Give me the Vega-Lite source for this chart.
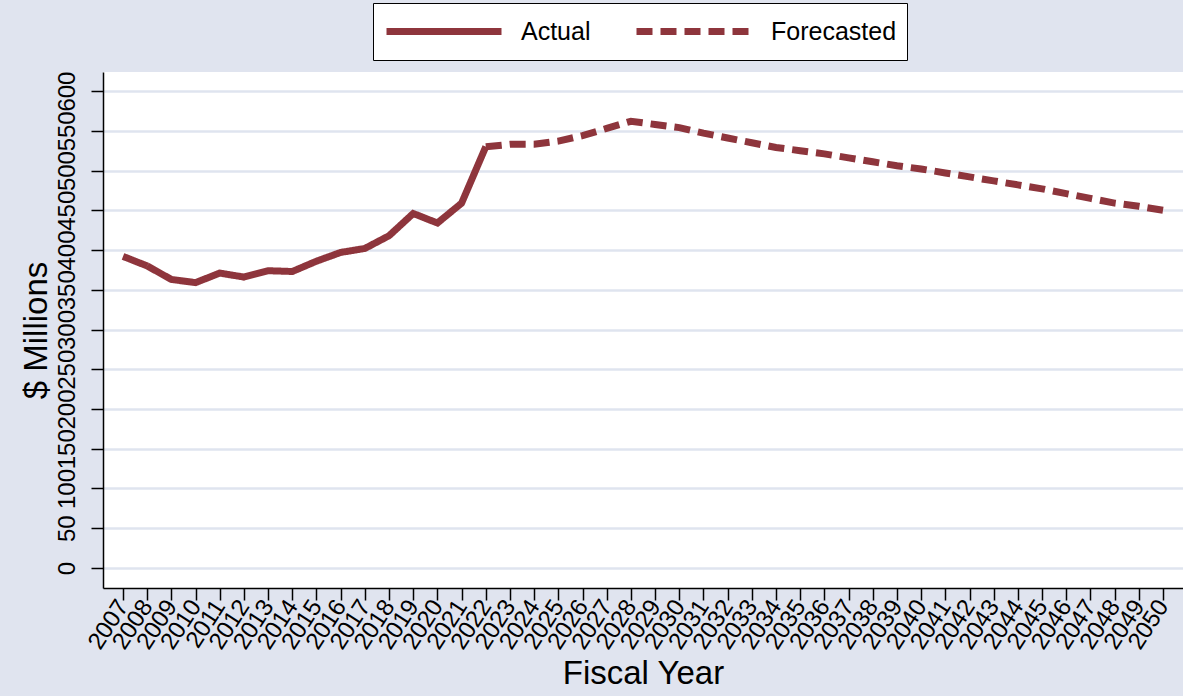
{
  "$schema": "https://vega.github.io/schema/vega-lite/v6.json",
  "width": 1080,
  "height": 516,
  "autosize": "none",
  "padding": {"left": 103, "top": 72, "right": 0, "bottom": 108},
  "background": "#e0e4ef",
  "config": {
    "view": {"fill": "white", "stroke": null},
    "font": "Liberation Sans"
  },
  "data": {
    "values": [
      {"year": 2007, "value": 392, "type": "Actual"},
      {"year": 2008, "value": 380, "type": "Actual"},
      {"year": 2009, "value": 363, "type": "Actual"},
      {"year": 2010, "value": 359, "type": "Actual"},
      {"year": 2011, "value": 371, "type": "Actual"},
      {"year": 2012, "value": 366, "type": "Actual"},
      {"year": 2013, "value": 374, "type": "Actual"},
      {"year": 2014, "value": 373, "type": "Actual"},
      {"year": 2015, "value": 386, "type": "Actual"},
      {"year": 2016, "value": 397, "type": "Actual"},
      {"year": 2017, "value": 402, "type": "Actual"},
      {"year": 2018, "value": 418, "type": "Actual"},
      {"year": 2019, "value": 446, "type": "Actual"},
      {"year": 2020, "value": 434, "type": "Actual"},
      {"year": 2021, "value": 459, "type": "Actual"},
      {"year": 2022, "value": 530, "type": "Actual"},
      {"year": 2022, "value": 530, "type": "Forecasted"},
      {"year": 2023, "value": 533, "type": "Forecasted"},
      {"year": 2024, "value": 533, "type": "Forecasted"},
      {"year": 2025, "value": 537, "type": "Forecasted"},
      {"year": 2026, "value": 544, "type": "Forecasted"},
      {"year": 2027, "value": 553, "type": "Forecasted"},
      {"year": 2028, "value": 562, "type": "Forecasted"},
      {"year": 2029, "value": 558, "type": "Forecasted"},
      {"year": 2030, "value": 554, "type": "Forecasted"},
      {"year": 2031, "value": 547, "type": "Forecasted"},
      {"year": 2032, "value": 541, "type": "Forecasted"},
      {"year": 2033, "value": 535, "type": "Forecasted"},
      {"year": 2034, "value": 529, "type": "Forecasted"},
      {"year": 2035, "value": 525, "type": "Forecasted"},
      {"year": 2036, "value": 521, "type": "Forecasted"},
      {"year": 2037, "value": 516, "type": "Forecasted"},
      {"year": 2038, "value": 511, "type": "Forecasted"},
      {"year": 2039, "value": 506, "type": "Forecasted"},
      {"year": 2040, "value": 502, "type": "Forecasted"},
      {"year": 2041, "value": 497, "type": "Forecasted"},
      {"year": 2042, "value": 492, "type": "Forecasted"},
      {"year": 2043, "value": 487, "type": "Forecasted"},
      {"year": 2044, "value": 482, "type": "Forecasted"},
      {"year": 2045, "value": 477, "type": "Forecasted"},
      {"year": 2046, "value": 471, "type": "Forecasted"},
      {"year": 2047, "value": 465, "type": "Forecasted"},
      {"year": 2048, "value": 459, "type": "Forecasted"},
      {"year": 2049, "value": 455, "type": "Forecasted"},
      {"year": 2050, "value": 450, "type": "Forecasted"}
    ]
  },
  "mark": {"type": "line", "strokeWidth": 7, "strokeCap": "butt", "strokeJoin": "miter"},
  "encoding": {
    "x": {
      "field": "year",
      "type": "ordinal",
      "scale": {"type": "point", "padding": 0.827},
      "axis": {
        "title": "Fiscal Year",
        "titleFontSize": 33,
        "titleFontWeight": "normal",
        "titleColor": "black",
        "titlePadding": 4,
        "labelAngle": -57,
        "labelAlign": "right",
        "labelBaseline": "middle",
        "labelFontSize": 24,
        "labelColor": "black",
        "labelPadding": 2,
        "labelOverlap": false,
        "tickSize": 12,
        "tickColor": "black",
        "tickWidth": 1.5,
        "domainColor": "black",
        "domainWidth": 1.5,
        "grid": false
      }
    },
    "y": {
      "field": "value",
      "type": "quantitative",
      "scale": {"domain": [-25.2, 624], "nice": false, "zero": false},
      "axis": {
        "title": "$ Millions",
        "titleFontSize": 33,
        "titleFontWeight": "normal",
        "titleColor": "black",
        "titlePadding": 2,
        "values": [0, 50, 100, 150, 200, 250, 300, 350, 400, 450, 500, 550, 600],
        "labelAngle": -90,
        "labelAlign": "center",
        "labelBaseline": "bottom",
        "labelFontSize": 24,
        "labelColor": "black",
        "labelPadding": 12,
        "labelOverlap": false,
        "tickSize": 12,
        "tickColor": "black",
        "tickWidth": 1.5,
        "domainColor": "black",
        "domainWidth": 1.5,
        "grid": true,
        "gridColor": "#dfe4ef",
        "gridWidth": 2.5
      }
    },
    "color": {
      "field": "type",
      "type": "nominal",
      "scale": {"domain": ["Actual", "Forecasted"], "range": ["#8e353c", "#8e353c"]},
      "legend": {
        "title": null,
        "orient": "none",
        "legendX": 270,
        "legendY": -69,
        "direction": "horizontal",
        "fillColor": "white",
        "strokeColor": "black",
        "padding": 10,
        "clipHeight": 37,
        "symbolType": "stroke",
        "symbolSize": 13225,
        "symbolStrokeWidth": 7,
        "labelFontSize": 25,
        "labelColor": "black",
        "labelOffset": 16,
        "columnPadding": 42
      }
    },
    "strokeDash": {
      "field": "type",
      "type": "nominal",
      "scale": {"domain": ["Actual", "Forecasted"], "range": [[1, 0], [16, 8]]},
      "legend": {
        "title": null,
        "orient": "none",
        "legendX": 270,
        "legendY": -69,
        "direction": "horizontal",
        "fillColor": "white",
        "strokeColor": "black",
        "padding": 10,
        "clipHeight": 37,
        "symbolType": "stroke",
        "symbolSize": 13225,
        "symbolStrokeWidth": 7,
        "labelFontSize": 25,
        "labelColor": "black",
        "labelOffset": 16,
        "columnPadding": 42
      }
    }
  }
}
